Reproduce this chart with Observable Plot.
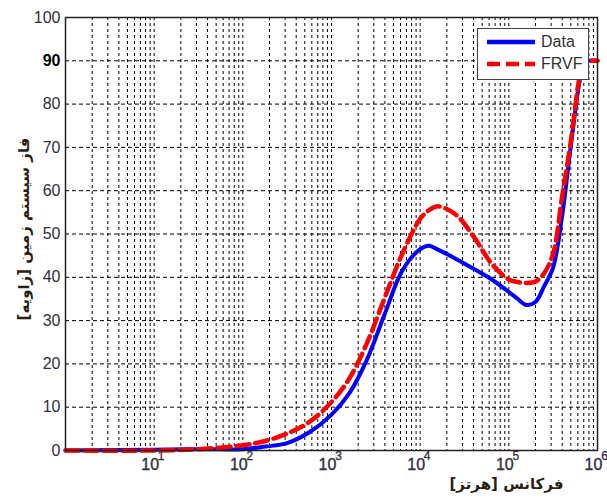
<!DOCTYPE html>
<html>
<head>
<meta charset="utf-8">
<script src="https://cdn.jsdelivr.net/npm/d3@7"></script>
<script src="https://cdn.jsdelivr.net/npm/@observablehq/plot@0.6"></script>
<style>
  html, body { margin: 0; padding: 0; background: #fff; }
  #wrap { position: relative; width: 607px; height: 501px; }
  #legend { position: absolute; left: 477px; top: 28px; width: 112px; height: 52px;
    border: 1px solid #444; background: #fff; box-sizing: border-box;
    font-family: "Liberation Sans", Arial, sans-serif; font-size: 16px; color: #333; }
  #legend .row { position: absolute; left: 0; height: 20px; display: flex; align-items: center; }
  #legend svg { margin-left: 9px; margin-right: 6px; }
</style>
</head>
<body>
<div id="wrap"></div>
<script>
// Frequencies (Hz) shared by both series
const freqs = [1, 10, 31.6, 100, 178, 316, 562, 1000, 1585, 2512, 3981, 6310, 10000, 12589, 15849,
  25119, 39811, 63096, 100000, 125893, 158489, 199526, 251189, 316228, 398107, 501187, 630957,
  707946, 794328, 1000000];
// Phase (degrees) – measured data
const dataPhase = [0, 0.2, 0.3, 0.3, 0.9, 1.7, 4.2, 8.3, 13.2, 21, 31.5, 41.6, 46.5, 47.3, 46.4,
  44.3, 42, 39.6, 36.6, 35, 33.6, 34.3, 38, 42.3, 54, 70.5, 85.5, 89.5, 90, 90];
// Phase (degrees) – FRVF fit
const frvfPhase = [0, 0, 0.3, 1.2, 2.2, 3.9, 6.6, 11.2, 16.6, 24.8, 35.3, 45.5, 53.5, 55.5, 56.4,
  54.5, 49.5, 43.3, 39.5, 38.9, 38.7, 39, 41, 45.5, 58.5, 71.5, 86.5, 90, 90, 90];

const seriesNames = ["Data", "FRVF"];
const seriesColors = ["#0000ff", "#ff0000"];
const yTicks = [0, 10, 20, 30, 40, 50, 60, 70, 80, 90, 100];
const xTicks = [10, 100, 1000, 10000, 100000, 1000000];
const xLabel = "فرکانس [هرتز]";
const yLabel = "فاز سیستم زمین [زاویه]";

const gridX = [];
for (let k = 0; k < 6; k++) for (let m = 1; m <= 9; m++) gridX.push(m * Math.pow(10, k));
gridX.push(1e6);
const gridY = yTicks.filter(d => d > 0 && d < 100);

const dataRows = freqs.map((f, i) => ({f, v: dataPhase[i]}));
const frvfRows = freqs.map((f, i) => ({f, v: frvfPhase[i]}));

const tickFont = "Liberation Sans, Arial, sans-serif";
const tickColor = "#2e2e3e";

const chart = Plot.plot({
  width: 607,
  height: 501,
  marginLeft: 65,
  marginRight: 10,
  marginTop: 17,
  marginBottom: 51,
  style: {fontFamily: tickFont, background: "#fff"},
  x: {type: "log", domain: [1, 1e6], axis: null},
  y: {domain: [0, 100], axis: null},
  marks: [
    Plot.ruleX(gridX, {stroke: "#000", strokeWidth: 1, strokeDasharray: "3,3"}),
    Plot.ruleY(gridY, {stroke: "#000", strokeWidth: 1, strokeDasharray: "4,3"}),
    Plot.axisY(yTicks.filter(d => d !== 90), {tickSize: 0, tickPadding: 5, fontSize: 16, fill: tickColor,
      stroke: tickColor, strokeWidth: 0.35, label: null}),
    Plot.axisY([90], {tickSize: 0, tickPadding: 5, fontSize: 16, fontWeight: "bold", fill: "#000", label: null}),
    Plot.text(xTicks, {x: d => d, frameAnchor: "bottom", text: () => "10", dy: 19, dx: -4, fontSize: 16,
      fill: tickColor, stroke: tickColor, strokeWidth: 0.35}),
    Plot.text(xTicks, {x: d => d, frameAnchor: "bottom", text: d => String(Math.round(Math.log10(d))), dy: 9, dx: 7,
      fontSize: 12, fill: tickColor, stroke: tickColor, strokeWidth: 0.3}),
    Plot.line(dataRows, {x: "f", y: "v", stroke: seriesColors[0], strokeWidth: 4, curve: "catmull-rom"}),
    Plot.line(frvfRows, {x: "f", y: "v", stroke: seriesColors[1], strokeWidth: 4.5, strokeDasharray: "13,6", curve: "catmull-rom"}),
    Plot.frame({stroke: "#222", strokeWidth: 1.5}),
    Plot.text([xLabel], {frameAnchor: "bottom-right", dx: -91, dy: 38, fontSize: 15, fontWeight: "bold",
      fontFamily: "DejaVu Sans, sans-serif", fill: "#2a1e14", textAnchor: "middle"}),
    Plot.text([yLabel], {frameAnchor: "left", dx: -41, dy: -5, rotate: -90, fontSize: 15, fontWeight: "bold",
      fontFamily: "DejaVu Sans, sans-serif", fill: "#2a1e14", textAnchor: "middle"})
  ]
});
const wrap = document.getElementById("wrap");
wrap.appendChild(chart);

// Legend
const leg = document.createElement("div");
leg.id = "legend";
seriesNames.forEach((name, i) => {
  const row = document.createElement("div");
  row.className = "row";
  row.style.top = (i === 0 ? 3 : 25) + "px";
  row.innerHTML = `<svg width="48" height="8"><line x1="0" x2="48" y1="4" y2="4" stroke="${seriesColors[i]}" stroke-width="4.5" ${i === 1 ? 'stroke-dasharray="13,6"' : ''}/></svg><span>${name}</span>`;
  leg.appendChild(row);
});
wrap.appendChild(leg);
</script>
</body>
</html>
